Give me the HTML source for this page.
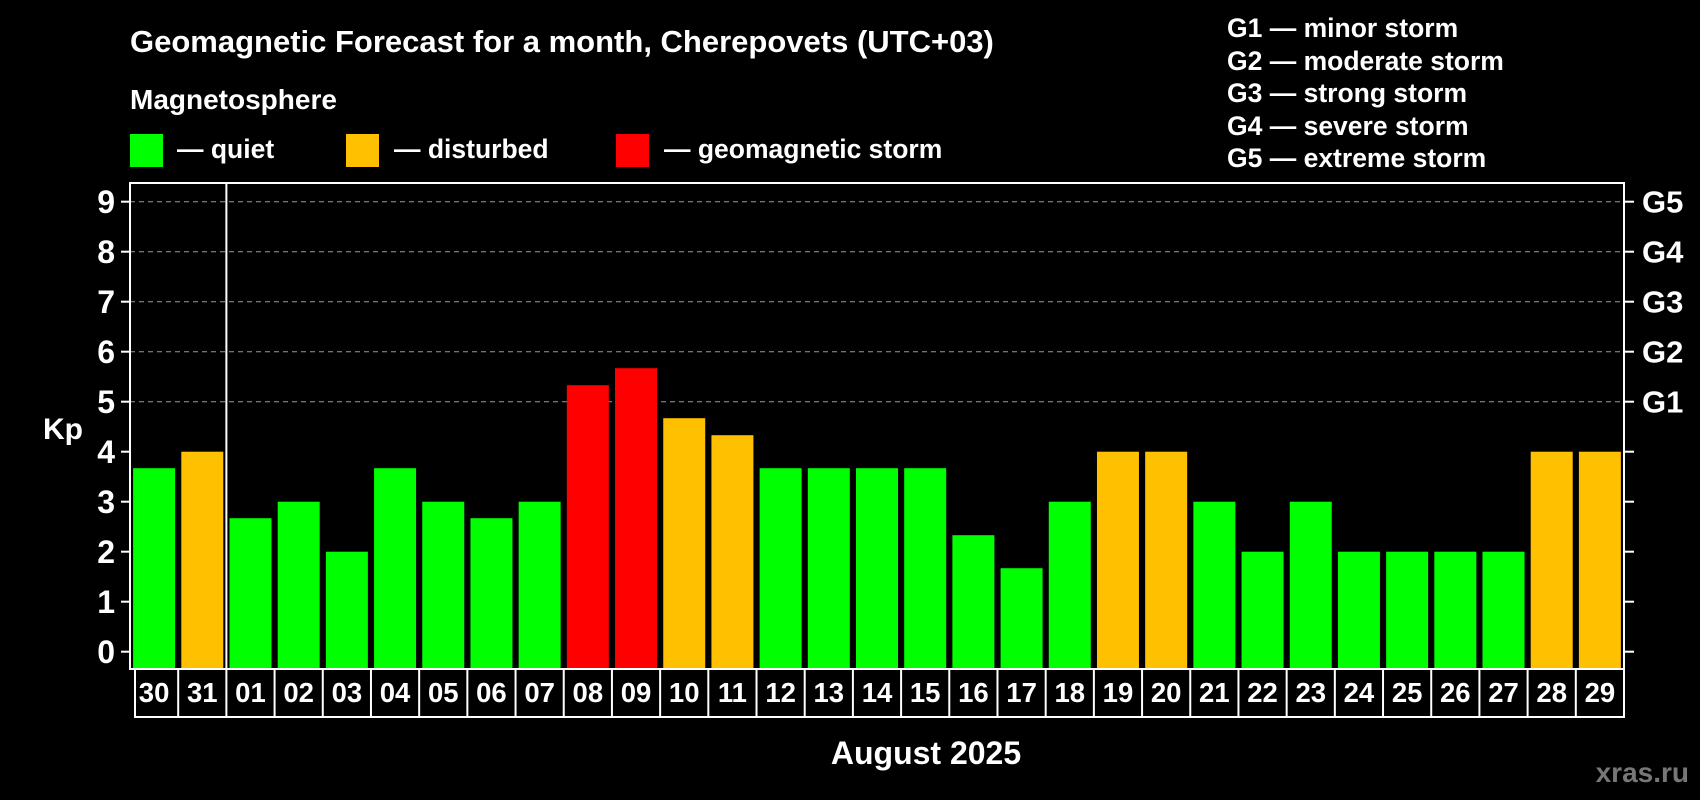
<!DOCTYPE html>
<html><head><meta charset="utf-8"><style>
html,body{margin:0;padding:0;background:#000;}
svg{display:block;font-family:"Liberation Sans",Arial,sans-serif;font-weight:bold;}
</style></head><body>
<svg id="chart" width="1700" height="800" viewBox="0 0 1700 800" xmlns="http://www.w3.org/2000/svg">
<text x="130" y="52" fill="#fff" font-size="31">Geomagnetic Forecast for a month, Cherepovets (UTC+03)</text>
<text x="130" y="109" fill="#fff" font-size="28">Magnetosphere</text>
<g><rect x="130" y="134" width="33" height="33" fill="#00ff00"/><text x="177" y="158" fill="#fff" font-size="26.5">— quiet</text></g>
<g><rect x="346" y="134" width="33" height="33" fill="#ffc000"/><text x="394" y="158" fill="#fff" font-size="26.5">— disturbed</text></g>
<g><rect x="616" y="134" width="33" height="33" fill="#ff0000"/><text x="664" y="158" fill="#fff" font-size="26.5">— geomagnetic storm</text></g>
<g fill="#fff" font-size="26.5">
<text x="1227" y="37">G1 — minor storm</text>
<text x="1227" y="70">G2 — moderate storm</text>
<text x="1227" y="102">G3 — strong storm</text>
<text x="1227" y="135">G4 — severe storm</text>
<text x="1227" y="167">G5 — extreme storm</text>
</g>
<text x="63" y="439" fill="#fff" font-size="30" text-anchor="middle">Kp</text>
<text x="926" y="764" fill="#fff" font-size="32" text-anchor="middle">August 2025</text>
<text x="1689" y="782" fill="#777" font-size="28" text-anchor="end">xras.ru</text>
<g id="plot"></g>
</svg>
<script>
const days = ["30","31","01","02","03","04","05","06","07","08","09","10","11","12","13","14","15","16","17","18","19","20","21","22","23","24","25","26","27","28","29"];
const kpValues = [3.67,4,2.67,3,2,3.67,3,2.67,3,5.33,5.67,4.67,4.33,3.67,3.67,3.67,3.67,2.33,1.67,3,4,4,3,2,3,2,2,2,2,4,4];
const yTicks = [0,1,2,3,4,5,6,7,8,9];
const gLabels = ["G1","G2","G3","G4","G5"];
const gLevels = [5,6,7,8,9];

const NS="http://www.w3.org/2000/svg";
const plot=document.getElementById('plot');
const L=130,R=1624,T=183,B=669,Y0=651.7,Y9=201.7,LB=717;
const slot=(R-L)/days.length;
function y(v){return Y0-(Y0-Y9)*v/9;}
function x(i){return L+slot*i;}
function mk(tag,attrs){const e=document.createElementNS(NS,tag);for(const k in attrs)e.setAttribute(k,attrs[k]);plot.appendChild(e);return e;}

yTicks.forEach(v=>{
  if(v>=5){const g=mk('line',{x1:L,x2:R,y1:y(v),y2:y(v),stroke:'#999','stroke-width':1,'stroke-dasharray':'5,4'});
  
  }
  const t1=mk('line',{x1:L-9,x2:L,y1:y(v),y2:y(v),stroke:'#fff','stroke-width':2});
  
  
  const t2=mk('line',{x1:R,x2:R+10,y1:y(v),y2:y(v),stroke:'#fff','stroke-width':2});
  
  
  const lb=mk('text',{x:115,y:y(v)+11.5,fill:'#fff','font-size':32,'text-anchor':'end'});
  lb.textContent=v;
  
  
});
gLabels.forEach((g,i)=>{
  const t=mk('text',{x:R+18,y:y(gLevels[i])+11,fill:'#fff','font-size':31});
  t.textContent=g;
  
  
});
kpValues.forEach((v,i)=>{
  const c=v>=5?'#ff0000':(v>=4?'#ffc000':'#00ff00');
  const r=mk('rect',{x:x(i)+slot/2-21,y:y(v),width:42,height:B-1-y(v),fill:c});
  
  
  const t=mk('text',{x:x(i)+slot/2,y:B+33,fill:'#fff','font-size':27.5,'text-anchor':'middle'});
  t.textContent=days[i];
  
  
  if(i>0){const d=mk('line',{x1:x(i),x2:x(i),y1:B,y2:LB,stroke:'#fff','stroke-width':2});
  
  }
});
const fr=mk('rect',{x:L,y:T,width:R-L,height:B-T,fill:'none',stroke:'#fff','stroke-width':2});


const lbx=mk('rect',{x:L+5,y:B,width:R-L-5,height:LB-B,fill:'none',stroke:'#fff','stroke-width':2});


const sep=mk('line',{x1:x(2),x2:x(2),y1:T,y2:B,stroke:'#fff','stroke-width':2});


</script>
</body></html>
